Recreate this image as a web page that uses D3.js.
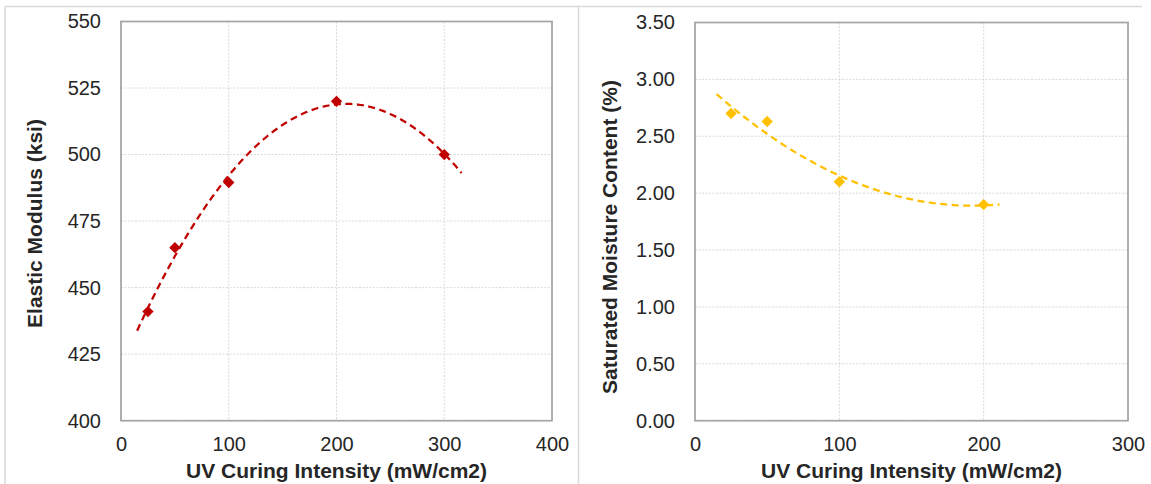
<!DOCTYPE html>
<html>
<head>
<meta charset="utf-8">
<script src="https://cdn.jsdelivr.net/npm/d3@7"></script>
<style>
  html, body { margin: 0; padding: 0; background: #fff; }
  svg { display: block; }
  text { font-family: "Liberation Sans", Arial, sans-serif; }
</style>
</head>
<body>
<svg id="chart" width="1151" height="484"></svg>
<script>
// UV curing intensity (mW/cm2) vs. elastic modulus (ksi)
const modulusIntensity = [25, 50, 100, 200, 300];
const modulusValues = [441, 465, 489.5, 520, 500];
const modulusXTicks = [0, 100, 200, 300, 400];
const modulusYTicks = [400, 425, 450, 475, 500, 525, 550];
const modulusTrendRange = [15, 316];

// UV curing intensity (mW/cm2) vs. saturated moisture content (%)
const moistureIntensity = [25, 50, 100, 200];
const moistureValues = [2.70, 2.63, 2.10, 1.90];
const moistureXTicks = [0, 100, 200, 300];
const moistureYTicks = [0, 0.5, 1.0, 1.5, 2.0, 2.5, 3.0, 3.5];
const moistureTrendRange = [15, 211];

const xTitle = "UV Curing Intensity (mW/cm2)";

const svg = d3.select("#chart");

// Outer frame lines
svg.append("line").attr("x1", 5).attr("x2", 1142).attr("y1", 6.5).attr("y2", 6.5)
  .attr("stroke", "#d9d9d9").attr("stroke-width", 1.5);
svg.append("line").attr("x1", 5).attr("x2", 5).attr("y1", 6.5).attr("y2", 484)
  .attr("stroke", "#d9d9d9").attr("stroke-width", 1.5);
svg.append("line").attr("x1", 578.5).attr("x2", 578.5).attr("y1", 6.5).attr("y2", 484)
  .attr("stroke", "#d9d9d9").attr("stroke-width", 1.5);

// Least-squares 2nd-order polynomial fit: returns [a, b, c] for a + b x + c x^2
function quadFit(xs, ys) {
  const s = [0, 0, 0, 0, 0], t = [0, 0, 0];
  xs.forEach((x, i) => {
    for (let k = 0; k < 5; k++) s[k] += Math.pow(x, k);
    for (let k = 0; k < 3; k++) t[k] += ys[i] * Math.pow(x, k);
  });
  const A = [[s[0], s[1], s[2], t[0]], [s[1], s[2], s[3], t[1]], [s[2], s[3], s[4], t[2]]];
  for (let i = 0; i < 3; i++) {
    for (let j = i + 1; j < 3; j++) {
      const f = A[j][i] / A[i][i];
      for (let k = i; k < 4; k++) A[j][k] -= f * A[i][k];
    }
  }
  const c = [0, 0, 0];
  for (let i = 2; i >= 0; i--) {
    let v = A[i][3];
    for (let k = i + 1; k < 3; k++) v -= A[i][k] * c[k];
    c[i] = v / A[i][i];
  }
  return c;
}

function drawPanel(opt) {
  const { left, right, top, bottom } = opt;
  const x = d3.scaleLinear().domain(opt.xDomain).range([left, right]);
  const y = d3.scaleLinear().domain(opt.yDomain).range([bottom, top]);
  const g = svg.append("g");

  // gridlines
  g.append("g").selectAll("line.h").data(opt.yTicks).join("line")
    .attr("x1", left).attr("x2", right)
    .attr("y1", d => y(d)).attr("y2", d => y(d))
    .attr("stroke", "#d9d9d9").attr("stroke-width", 1).attr("stroke-dasharray", "2,1.5");
  g.append("g").selectAll("line.v").data(opt.xTicks).join("line")
    .attr("x1", d => x(d)).attr("x2", d => x(d))
    .attr("y1", top).attr("y2", bottom)
    .attr("stroke", "#d9d9d9").attr("stroke-width", 1).attr("stroke-dasharray", "2,1.5");

  // axes (labels only)
  const yAxis = d3.axisLeft(y).tickValues(opt.yTicks).tickFormat(opt.yFormat).tickSize(0).tickPadding(20);
  const ya = g.append("g").attr("transform", `translate(${left},0)`).call(yAxis);
  const xAxis = d3.axisBottom(x).tickValues(opt.xTicks).tickFormat(d3.format("d")).tickSize(0).tickPadding(16);
  const xa = g.append("g").attr("transform", `translate(0,${bottom})`).call(xAxis);
  [ya, xa].forEach(a => {
    a.select(".domain").remove();
    a.selectAll("text").attr("font-size", 20).attr("fill", "#262626")
      .attr("font-family", "'Liberation Sans', Arial, sans-serif");
  });

  // plot border
  g.append("rect").attr("x", left).attr("y", top).attr("width", right - left).attr("height", bottom - top)
    .attr("fill", "none").attr("stroke", "#a6a6a6").attr("stroke-width", 1.75);

  // trendline
  const coef = quadFit(opt.xs, opt.ys);
  const f = v => coef[0] + coef[1] * v + coef[2] * v * v;
  const tx = d3.range(opt.trendRange[0], opt.trendRange[1] + 0.01, (opt.trendRange[1] - opt.trendRange[0]) / 100);
  g.append("path").datum(tx)
    .attr("d", d3.line().x(d => x(d)).y(d => y(f(d))))
    .attr("fill", "none").attr("stroke", opt.color).attr("stroke-width", 2.25)
    .attr("stroke-dasharray", "7,4.5");

  // markers
  g.append("g").selectAll("path").data(opt.xs.map((v, i) => [v, opt.ys[i]])).join("path")
    .attr("d", d3.symbol(d3.symbolSquare, 64))
    .attr("transform", d => `translate(${x(d[0])},${y(d[1])}) rotate(45)`)
    .attr("fill", opt.color);

  // titles
  g.append("text").attr("x", (left + right) / 2).attr("y", 478)
    .attr("text-anchor", "middle").attr("font-size", 21).attr("font-weight", "bold").attr("fill", "#262626")
    .text(xTitle);
  g.append("text")
    .attr("transform", `translate(${opt.yTitleX},${opt.yTitleY}) rotate(-90)`)
    .attr("text-anchor", "middle").attr("font-size", 21).attr("font-weight", "bold").attr("fill", "#262626")
    .text(opt.yTitle);
}

drawPanel({
  left: 121, right: 552, top: 21.5, bottom: 420.7,
  xDomain: [0, 400], yDomain: [400, 550],
  xTicks: modulusXTicks, yTicks: modulusYTicks,
  yFormat: d3.format("d"),
  xs: modulusIntensity, ys: modulusValues,
  trendRange: modulusTrendRange,
  color: "#c00000",
  yTitle: "Elastic Modulus (ksi)", yTitleX: 42, yTitleY: 223.5
});

drawPanel({
  left: 695, right: 1128, top: 22.5, bottom: 420.7,
  xDomain: [0, 300], yDomain: [0, 3.5],
  xTicks: moistureXTicks, yTicks: moistureYTicks,
  yFormat: d3.format(".2f"),
  xs: moistureIntensity, ys: moistureValues,
  trendRange: moistureTrendRange,
  color: "#ffc000",
  yTitle: "Saturated Moisture Content (%)", yTitleX: 617, yTitleY: 237
});
</script>
</body>
</html>
